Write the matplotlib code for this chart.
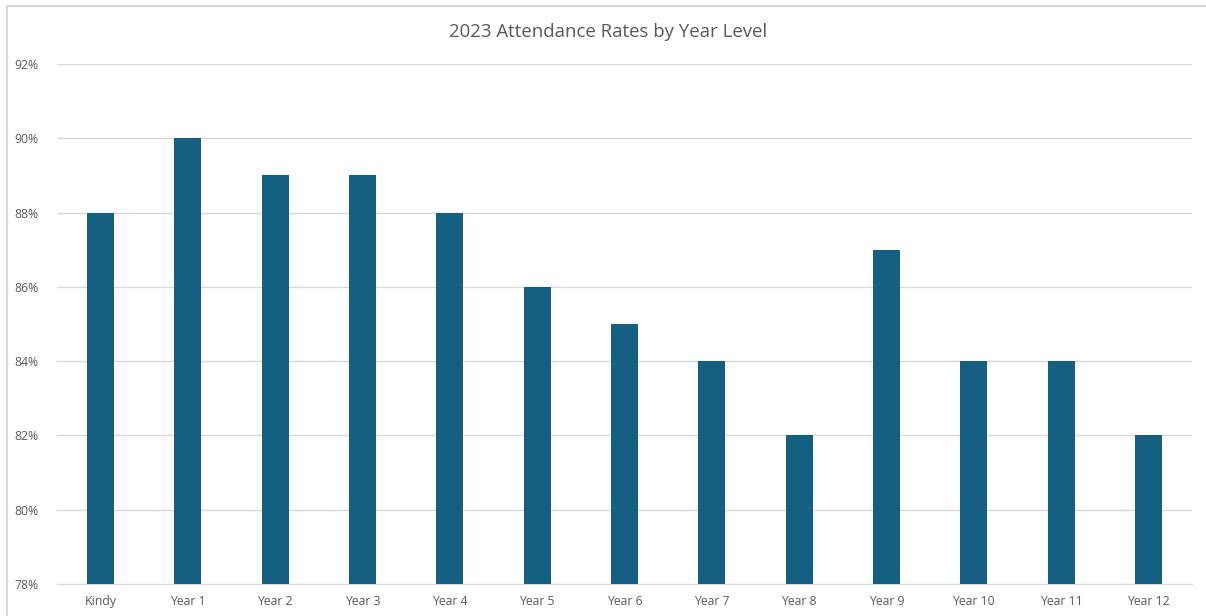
import matplotlib
matplotlib.use("Agg")
import matplotlib.pyplot as plt
from matplotlib.lines import Line2D
from matplotlib.ticker import FuncFormatter

levels = ["Kindy", "Year 1", "Year 2", "Year 3", "Year 4", "Year 5", "Year 6",
          "Year 7", "Year 8", "Year 9", "Year 10", "Year 11", "Year 12"]
attendance = [88, 90, 89, 89, 88, 86, 85, 84, 82, 87, 84, 84, 82]
yticks = [78, 80, 82, 84, 86, 88, 90, 92]

plt.rcParams["font.family"] = ["Open Sans", "DejaVu Sans"]
GREY = "#595959"
W, H = 1206, 616

fig = plt.figure(figsize=(W / 100, H / 100), dpi=100)
# chart frame: only top and left edges are visible in the crop
fig.lines.append(Line2D([7 / W, 1], [1 - 6 / H, 1 - 6 / H], transform=fig.transFigure,
                        color="#d9d9d9", lw=1.5))
fig.lines.append(Line2D([7 / W, 7 / W], [0, 1 - 6 / H], transform=fig.transFigure,
                        color="#d9d9d9", lw=1.5))
ax = fig.add_axes([57 / W, 32 / H, 1135 / W, 520 / H])

x = range(len(levels))
ax.bar(x, attendance, width=0.31, color="#156082", zorder=3)
ax.set_xlim(-0.5, len(levels) - 0.5)
ax.set_ylim(78, 92)
ax.set_yticks(yticks)
ax.yaxis.set_major_formatter(FuncFormatter(lambda v, p: f"{v:.0f}%"))
ax.set_xticks(list(x))
ax.set_xticklabels(levels)
ax.grid(axis="y", color="#d9d9d9", lw=1, zorder=0)
for s in ["top", "right", "left"]:
    ax.spines[s].set_visible(False)
ax.spines["bottom"].set_color("#d9d9d9")
ax.tick_params(length=0, colors=GREY, labelsize=8.8)
ax.tick_params(axis="y", pad=13)
ax.tick_params(axis="x", pad=8)
fig.text(608 / W, 1 - 32 / H, "2023 Attendance Rates by Year Level", color=GREY,
         fontsize=13.4, ha="center", va="center")

fig.savefig("out.png", dpi=100)
